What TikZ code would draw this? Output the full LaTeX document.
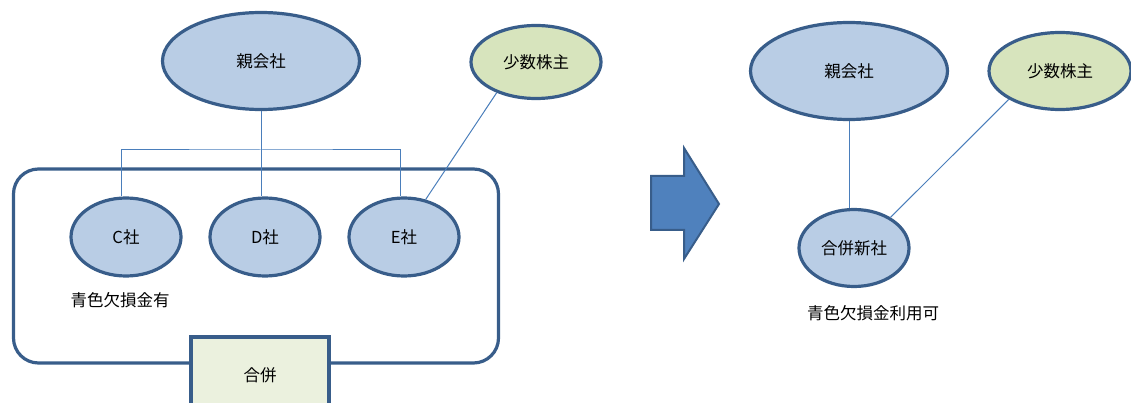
\documentclass[tikz,border=0pt]{standalone}
\usepackage{fontspec}
\newfontfamily\jp{Noto Sans CJK JP}
\usepackage{xcolor}
\usepackage{tikz}
\usetikzlibrary{shapes.geometric}
\definecolor{rim}{HTML}{385D8A}
\definecolor{bluefill}{HTML}{B9CDE5}
\definecolor{greenfill}{HTML}{D7E4BD}
\definecolor{boxfill}{HTML}{EBF1DE}
\definecolor{wire}{HTML}{4A7EBB}
\definecolor{arrowfill}{HTML}{4F81BD}

\begin{document}
\begin{tikzpicture}[x=1pt, y=-1pt, font=\jp\fontsize{16.5}{19}\selectfont,
                    node distance=139pt]
\tikzstyle{firm}=[ellipse, draw=rim, fill=bluefill, line width=3.2pt, inner sep=0pt]
\tikzstyle{minor}=[ellipse, draw=rim, fill=greenfill, line width=3.2pt, inner sep=0pt]
\tikzstyle{link}=[draw=wire, line width=1pt]
  \clip (0,0) rectangle (1131,403);
  % before merger
  \node[draw=rim, line width=3.2pt, rounded corners=25pt, minimum width=485pt,
        minimum height=194pt] (grp) at (256,266) {};
  \node[firm, minimum width=197pt, minimum height=97pt] (P) at (261,61) {親会社};
  \node[minor, minimum width=130pt, minimum height=73pt] (M) at (536,62) {少数株主};
  \node[firm, minimum width=110pt, minimum height=78pt] (C) at (126,237) {C社};
  \node[firm, minimum width=110pt, minimum height=78pt] (D) [right of=C] {D社};
  \node[firm, minimum width=110pt, minimum height=78pt] (E) [right of=D] {E社};
  \node (loss) at (120,300) {青色欠損金有};
  \node[draw=rim, fill=boxfill, line width=3.2pt, minimum width=138pt,
        minimum height=76pt] (merge) at (260,375) {合併};
  \coordinate (bar) at (261,150);
  \path[link] (P.south) -- (P.south |- D.north);
  \path[link] ([xshift=-5pt]C.north) |- (bar) -| ([xshift=-4pt]E.north);
  \path[link] (M.218) -- (E.60);
  % arrow
  \draw[draw=rim, fill=arrowfill, line width=2pt]
    (651,176) -- (684,176) -- (684,148) -- (719,204) -- (684,259) -- (684,230)
    -- (651,230) -- cycle;
  % after merger
  \node[firm, minimum width=197pt, minimum height=97pt] (P2) at (849,71) {親会社};
  \node[minor, minimum width=142pt, minimum height=77pt] (M2) at (1060,71) {少数株主};
  \node[firm, minimum width=110pt, minimum height=77pt] (N) at (854,248) {合併新社};
  \node (use) at (873,313) {青色欠損金利用可};
  \path[link] (P2.south) -- (P2.south |- N.north);
  \path[link] (M2.209) -- (N.40);
\end{tikzpicture}
\end{document}
